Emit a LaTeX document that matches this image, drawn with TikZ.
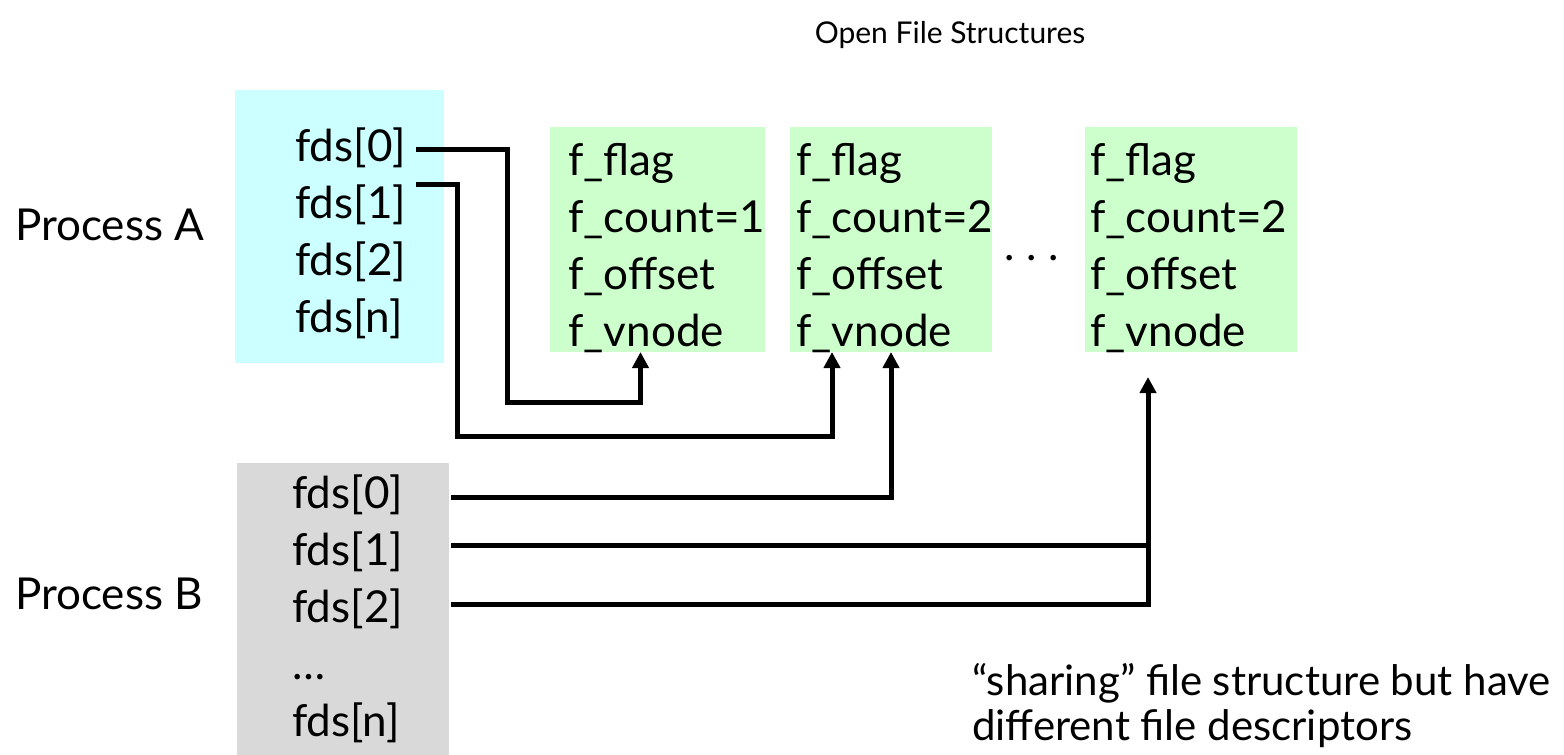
\documentclass[tikz,border=0pt]{standalone}
\usepackage{fontspec}
\setmainfont{Lato}
\usetikzlibrary{arrows.meta,calc,positioning}

\definecolor{cyanbg}{HTML}{CCFFFF}
\definecolor{greenbg}{HTML}{CCFFCC}
\definecolor{greybg}{HTML}{D9D9D9}

\tikzset{
  pane/.style={inner sep=0pt, outer sep=0pt, anchor=north west},
  entry/.style={anchor=base west, inner sep=0pt, font=\fontsize{44}{52}\selectfont},
  caption/.style={anchor=base west, inner sep=0pt, font=\fontsize{44}{52}\selectfont},
  link/.style={line width=5pt},
  ptr/.style={link, -{Triangle[width=16pt,length=16pt]}},
}

\begin{document}
\begin{tikzpicture}[x=1pt,y=-1pt]
\useasboundingbox (0,0) rectangle (1564,755);

% title
\node[anchor=base, inner sep=0pt, font=\fontsize{30}{36}\selectfont] (title) at (950,43) {Open File Structures};

% descriptor tables
\node[pane, fill=cyanbg, minimum width=209pt, minimum height=273pt] (pa) at (235,90) {};
\node[pane, fill=greybg, minimum width=212pt, minimum height=292pt] (pb) at (237,463) {};
\node[caption] (procA) at (15,240) {Process A};
\node[caption] (procB) at (15,609) {Process B};

\foreach \t [count=\i from 0] in {fds[0],fds[1],fds[2],fds[n]}
  \node[entry] (a\i) at (295,161+57*\i) {\t};
\foreach \t [count=\i from 0] in {fds[0],fds[1],fds[2],\ldots,fds[n]}
  \node[entry] (b\i) at (292,508+57*\i) {\t};

% open file structures
\node[pane, fill=greenbg, minimum width=215pt, minimum height=225pt] (g1) at (550,127) {};
\node[pane, fill=greenbg, minimum width=202pt, minimum height=225pt] (g2) at (790,127) {};
\node[pane, fill=greenbg, minimum width=212pt, minimum height=225pt] (g3) at (1085,127) {};

\foreach \g/\x/\n in {g1/568/1, g2/796/2, g3/1090/2}
  \foreach \t [count=\i] in {f\_flag, f\_count=\n, f\_offset, f\_vnode}
    \node[entry] (\g-\i) at (\x,118+57*\i) {\t};

\node[entry] (dots) at (1004,260) {.\hspace{12pt}.\hspace{12pt}.};

% pointers
\coordinate (b1out) at ($(pb.east |- b1.base)+(2,-20)$);
\coordinate (j) at ([xshift=-43pt]g3.south);
\draw[ptr] ([shift={(10,-12)}]a0.base east) -| (507,402) -| ([xshift=-17pt]g1.south);
\draw[ptr] ([shift={(10,-34)}]a1.base east) -| (457,436) -| ([xshift=-59pt]g2.south);
\draw[ptr] ($(pb.east |- b0.base)+(2,-11)$) -| (g2.south);
\draw[ptr] ($(pb.east |- b2.base)+(2,-18)$) -| ([yshift=-25pt]j);
\draw[link] (b1out) -- (b1out -| j);

% note (base sits on the last line)
\node[entry, align=left, font=\fontsize{42}{45}\selectfont] (note) at (972,740)
  {``sharing'' file structure but have\\different file descriptors};
\end{tikzpicture}
\end{document}
